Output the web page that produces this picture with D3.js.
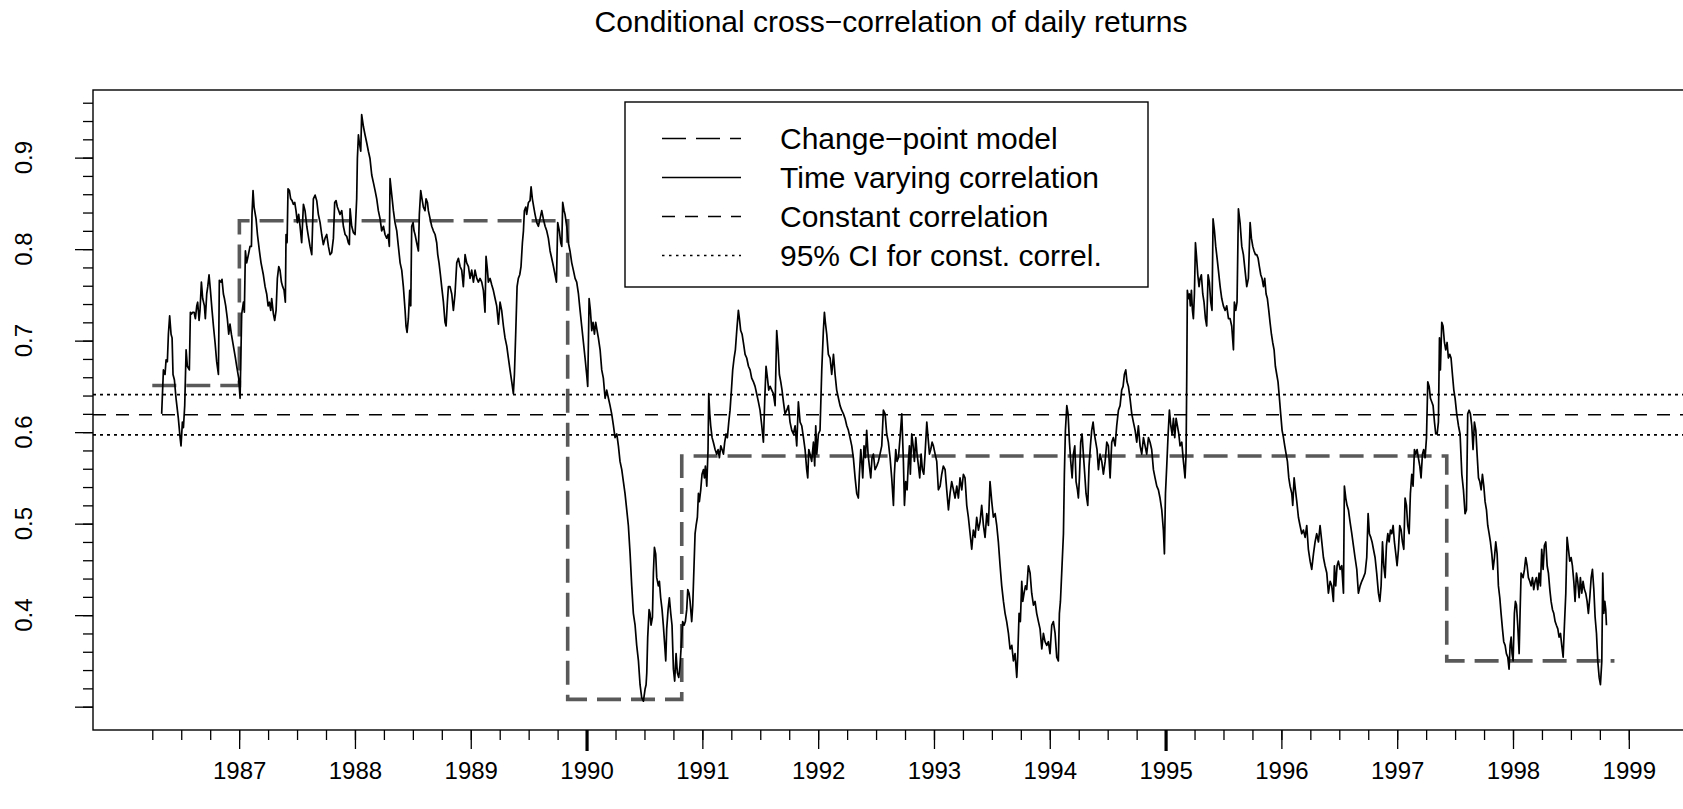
<!DOCTYPE html>
<html lang="en">
<head>
<meta charset="utf-8">
<title>Conditional cross-correlation of daily returns</title>
<script src="https://cdn.jsdelivr.net/npm/d3@7"></script>
<style>
  body { margin: 0; background: #fff; }
  svg { display: block; font-family: "Liberation Sans", Arial, Helvetica, sans-serif; }
</style>
</head>
<body>
<div id="chart"></div>
<script>
// time varying correlation (decimal years / correlation)
var tvDates = [
  1986.331,1986.346,1986.360,1986.369,1986.380,1986.389,1986.400,1986.412,1986.421,1986.429,1986.441,1986.455,1986.475,1986.490,1986.498,1986.510,1986.519,1986.530,1986.542,1986.553,
  1986.570,1986.579,1986.588,1986.599,1986.611,1986.622,1986.634,1986.642,1986.654,1986.662,1986.674,1986.685,1986.700,1986.708,1986.720,1986.729,1986.740,1986.752,1986.766,1986.778,
  1986.792,1986.806,1986.821,1986.829,1986.844,1986.852,1986.864,1986.873,1986.884,1986.898,1986.910,1986.921,1986.933,1986.945,1986.956,1986.968,1986.979,1986.996,1987.008,1987.022,
  1987.037,1987.045,1987.054,1987.065,1987.080,1987.094,1987.106,1987.111,1987.120,1987.129,1987.146,1987.158,1987.175,1987.189,1987.209,1987.224,1987.238,1987.250,1987.261,1987.273,
  1987.281,1987.296,1987.307,1987.319,1987.330,1987.342,1987.353,1987.365,1987.376,1987.388,1987.399,1987.405,1987.414,1987.422,1987.434,1987.445,1987.457,1987.468,1987.480,1987.491,
  1987.503,1987.514,1987.526,1987.540,1987.555,1987.569,1987.584,1987.595,1987.612,1987.627,1987.641,1987.656,1987.670,1987.684,1987.699,1987.713,1987.727,1987.742,1987.756,1987.771,
  1987.785,1987.799,1987.814,1987.825,1987.837,1987.848,1987.860,1987.871,1987.886,1987.900,1987.915,1987.929,1987.943,1987.952,1987.958,1987.972,1987.987,1988.001,1988.015,1988.021,
  1988.030,1988.038,1988.050,1988.058,1988.073,1988.087,1988.102,1988.116,1988.130,1988.145,1988.159,1988.174,1988.188,1988.202,1988.217,1988.231,1988.246,1988.260,1988.274,1988.286,
  1988.297,1988.303,1988.318,1988.332,1988.346,
  1988.361,1988.375,1988.390,1988.404,1988.418,1988.433,1988.441,1988.450,1988.461,1988.473,1988.482,1988.490,1988.502,1988.510,1988.519,1988.533,1988.548,1988.556,1988.568,1988.579,
  1988.591,1988.605,1988.614,1988.626,1988.634,1988.649,1988.663,1988.677,1988.692,1988.706,1988.715,1988.726,1988.738,1988.749,1988.764,1988.778,1988.787,1988.798,1988.807,1988.821,
  1988.836,1988.850,1988.864,1988.879,1988.893,1988.908,1988.922,1988.936,1988.951,1988.965,1988.980,1988.994,1989.008,1989.023,1989.037,1989.052,1989.066,1989.080,1989.095,1989.109,
  1989.123,1989.132,1989.144,1989.152,1989.167,1989.181,1989.195,1989.210,1989.224,1989.239,1989.253,1989.267,1989.282,1989.296,1989.311,1989.325,1989.339,1989.354,1989.368,1989.377,
  1989.388,1989.400,1989.411,1989.423,1989.434,1989.446,1989.455,1989.463,1989.475,1989.483,1989.498,1989.512,1989.521,1989.532,1989.544,1989.555,1989.570,1989.584,1989.598,1989.613,
  1989.627,1989.642,1989.656,1989.670,1989.685,1989.699,1989.714,1989.728,1989.740,1989.751,1989.765,1989.777,1989.786,1989.794,1989.806,1989.814,1989.829,1989.843,1989.857,1989.872,
  1989.886,1989.901,1989.915,1989.930,1989.944,1989.958,1989.973,1989.987,1990.001,1990.010,1990.022,1990.033,1990.045,1990.056,1990.068,1990.079,1990.091,1990.102,1990.117,1990.131,
  1990.145,1990.160,1990.174,1990.189,1990.203,1990.217,1990.232,1990.246,1990.261,1990.275,1990.289,1990.304,1990.318,1990.332,1990.347,1990.361,1990.376,1990.390,1990.404,1990.419,
  1990.433,1990.448,1990.462,1990.476,1990.491,
  1990.505,1990.514,1990.520,1990.528,1990.540,1990.548,1990.557,1990.569,1990.577,1990.586,1990.597,1990.606,1990.620,1990.629,1990.640,1990.652,1990.663,1990.675,1990.684,1990.692,
  1990.704,1990.715,1990.727,1990.738,1990.750,1990.761,1990.773,1990.784,1990.796,1990.807,1990.822,1990.830,1990.842,1990.853,1990.865,1990.874,1990.885,1990.894,1990.908,1990.917,
  1990.928,1990.937,1990.946,1990.957,1990.966,1990.974,1990.986,1990.997,1991.009,1991.018,1991.026,1991.038,1991.049,1991.055,1991.064,1991.072,1991.084,1991.095,1991.110,1991.124,
  1991.136,1991.147,1991.159,1991.170,1991.182,1991.193,1991.205,1991.216,1991.228,1991.239,1991.251,1991.262,1991.274,1991.285,1991.297,1991.311,1991.320,1991.331,1991.343,1991.354,
  1991.369,1991.383,1991.398,1991.412,1991.426,1991.441,1991.455,1991.469,1991.484,1991.498,1991.513,1991.527,1991.539,1991.550,1991.562,1991.573,1991.585,1991.599,1991.613,1991.628,
  1991.642,1991.654,1991.665,1991.677,1991.688,1991.700,1991.714,1991.729,1991.743,1991.757,1991.772,1991.786,1991.801,1991.815,1991.829,1991.844,1991.858,1991.873,1991.887,1991.901,
  1991.910,1991.919,1991.930,1991.944,1991.959,1991.970,1991.979,1991.988,1992.002,1992.016,1992.031,1992.045,1992.054,1992.062,1992.074,1992.088,1992.103,1992.117,1992.132,1992.146,
  1992.160,1992.175,1992.189,1992.203,1992.218,1992.232,1992.247,1992.261,1992.275,1992.290,1992.304,1992.319,1992.333,1992.347,1992.356,1992.368,1992.376,1992.385,1992.396,1992.408,
  1992.419,1992.431,1992.442,1992.454,1992.465,1992.477,1992.491,1992.506,1992.520,1992.534,1992.549,1992.563,1992.578,1992.592,
  1992.606,1992.621,1992.635,1992.650,1992.658,1992.670,1992.681,1992.693,1992.707,1992.722,1992.736,1992.745,1992.756,1992.768,1992.779,1992.788,1992.796,1992.808,1992.820,1992.831,
  1992.843,1992.854,1992.866,1992.877,1992.889,1992.900,1992.912,1992.923,1992.938,1992.949,1992.961,1992.972,1992.984,1992.995,1993.010,1993.024,1993.038,1993.053,1993.067,1993.081,
  1993.096,1993.110,1993.125,1993.139,1993.153,1993.168,1993.182,1993.197,1993.211,1993.225,1993.240,1993.254,1993.268,1993.283,1993.297,1993.312,1993.326,1993.340,1993.355,1993.369,
  1993.384,1993.398,1993.412,1993.427,1993.441,1993.456,1993.470,1993.484,1993.499,1993.513,1993.528,1993.542,1993.556,1993.571,1993.585,1993.600,1993.614,1993.628,1993.643,1993.657,
  1993.672,1993.686,1993.700,1993.715,1993.723,1993.735,1993.746,1993.758,1993.767,1993.778,1993.790,1993.801,1993.815,1993.830,1993.844,1993.859,1993.873,1993.887,1993.902,1993.916,
  1993.931,1993.945,1993.959,1993.974,1993.988,1994.002,1994.017,1994.031,1994.046,1994.060,1994.074,1994.083,1994.092,1994.103,1994.118,1994.126,1994.135,1994.147,1994.158,1994.170,
  1994.181,1994.193,1994.204,1994.216,1994.227,1994.239,1994.247,1994.256,1994.267,1994.279,1994.290,1994.302,1994.313,1994.328,1994.339,1994.351,1994.362,1994.374,1994.385,1994.397,
  1994.408,1994.420,1994.434,1994.449,1994.463,1994.478,1994.492,1994.506,1994.521,1994.535,1994.549,1994.564,1994.578,1994.593,1994.607,1994.621,1994.633,1994.644,1994.656,1994.667,
  1994.679,1994.693,1994.708,1994.722,
  1994.737,1994.751,1994.765,1994.780,1994.794,1994.809,1994.823,1994.837,1994.852,1994.866,1994.880,1994.895,1994.909,1994.924,1994.938,1994.952,1994.967,1994.981,1994.990,1994.999,
  1995.010,1995.022,1995.033,1995.045,1995.056,1995.068,1995.079,1995.091,1995.102,1995.114,1995.125,1995.140,1995.154,1995.168,1995.177,1995.183,1995.188,1995.197,1995.206,1995.214,
  1995.223,1995.232,1995.240,1995.249,1995.258,1995.266,1995.278,1995.289,1995.298,1995.309,1995.321,1995.332,1995.344,1995.355,1995.367,1995.378,1995.390,1995.401,1995.410,1995.422,
  1995.433,1995.445,1995.456,1995.471,1995.485,1995.499,1995.514,1995.528,1995.543,1995.557,1995.571,1995.586,1995.594,1995.606,1995.617,1995.629,1995.643,1995.658,1995.672,1995.686,
  1995.701,1995.715,1995.730,1995.741,1995.753,1995.764,1995.776,1995.787,1995.799,1995.810,1995.822,1995.833,1995.845,1995.856,1995.868,1995.879,1995.891,1995.902,1995.914,1995.925,
  1995.937,1995.948,1995.960,1995.971,1995.983,1995.994,1996.006,1996.018,1996.029,1996.041,1996.052,1996.064,1996.075,1996.090,1996.098,1996.110,1996.121,1996.133,1996.147,1996.161,
  1996.176,1996.190,1996.205,1996.219,1996.233,1996.248,1996.262,1996.277,1996.291,1996.305,1996.320,1996.334,1996.349,1996.363,1996.377,1996.392,1996.406,1996.421,1996.435,1996.449,
  1996.458,1996.469,1996.481,1996.492,1996.507,1996.521,1996.536,1996.544,1996.556,1996.567,1996.579,1996.593,1996.608,1996.622,1996.636,1996.651,1996.665,1996.680,1996.694,1996.708,
  1996.723,1996.737,1996.749,1996.760,1996.772,1996.783,1996.795,1996.809,1996.823,1996.838,
  1996.850,1996.861,1996.873,1996.884,1996.896,1996.907,1996.919,1996.930,1996.942,1996.953,1996.965,1996.976,1996.988,1996.999,1997.011,1997.022,1997.034,1997.045,1997.057,1997.068,
  1997.080,1997.091,1997.103,1997.114,1997.126,1997.137,1997.149,1997.160,1997.172,1997.183,1997.195,1997.206,1997.218,1997.229,1997.241,1997.253,1997.264,1997.276,1997.287,1997.299,
  1997.310,1997.322,1997.333,1997.345,1997.356,1997.365,1997.373,1997.385,1997.396,1997.408,1997.419,1997.431,1997.442,1997.454,1997.465,1997.477,1997.489,1997.500,1997.514,1997.529,
  1997.543,1997.558,1997.572,1997.586,1997.598,1997.609,1997.621,1997.632,1997.644,1997.655,1997.667,1997.679,1997.690,1997.702,1997.713,1997.725,1997.736,1997.748,1997.759,1997.771,
  1997.782,1997.794,1997.805,1997.817,1997.828,1997.840,1997.851,1997.863,1997.874,1997.886,1997.897,1997.909,1997.920,1997.932,1997.943,1997.955,1997.966,1997.975,1997.984,1997.992,
  1998.001,1998.012,1998.021,1998.030,1998.041,1998.053,1998.061,1998.070,1998.087,1998.099,1998.110,1998.122,1998.133,1998.145,1998.156,1998.168,1998.179,1998.191,1998.202,1998.214,
  1998.225,1998.237,1998.248,1998.260,1998.271,1998.283,1998.295,1998.306,1998.318,1998.329,1998.341,1998.352,1998.364,1998.375,1998.387,1998.398,1998.410,1998.421,1998.433,1998.444,
  1998.456,1998.467,1998.479,1998.490,1998.502,1998.513,1998.525,1998.536,1998.548,1998.559,1998.571,1998.582,1998.594,1998.605,1998.617,1998.628,1998.640,1998.651,1998.663,1998.675,
  1998.686,1998.698,1998.709,1998.721,1998.732,1998.744,1998.755,1998.767,1998.775,1998.784,1998.793,1998.801,1998.807
];
var tvCorr = [
  .620,.668,.663,.679,.677,.707,.727,.707,.703,.663,.657,.637,.615,.594,.585,.611,.605,.629,.690,.672,
  .668,.731,.729,.731,.731,.724,.738,.742,.722,.733,.764,.746,.738,.724,.751,.759,.772,.755,.733,.716,
  .698,.677,.663,.766,.764,.767,.751,.746,.738,.724,.707,.718,.707,.698,.690,.681,.672,.659,.637,.729,
  .742,.731,.798,.785,.794,.803,.803,.838,.864,.846,.833,.816,.798,.785,.772,.759,.751,.738,.742,.733,
  .746,.729,.722,.733,.768,.781,.777,.764,.759,.755,.742,.816,.807,.866,.864,.855,.853,.849,.851,.842,
  .829,.838,.825,.807,.849,.842,.825,.816,.803,.794,.855,.859,.853,.838,.829,.816,.805,.812,.816,.803,
  .794,.796,.812,.851,.853,.846,.842,.838,.842,.825,.816,.814,.807,.805,.844,.825,.818,.816,.855,.899,
  .925,.916,.907,.947,.934,.925,.916,.907,.899,.881,.873,.864,.855,.842,.833,.820,.825,.816,.812,.816,
  .803,.877,.859,.842,.829,
  .820,.803,.785,.777,.759,.733,.716,.709,.724,.755,.738,.825,.829,.820,.816,.807,.798,.838,.864,.855,
  .846,.842,.855,.851,.842,.833,.825,.820,.816,.807,.794,.785,.772,.759,.742,.720,.716,.742,.759,.759,
  .751,.733,.751,.785,.790,.781,.777,.759,.794,.785,.781,.768,.777,.764,.777,.768,.764,.768,.764,.755,
  .731,.792,.777,.764,.768,.761,.755,.746,.738,.718,.742,.733,.716,.703,.694,.681,.668,.655,.642,.663,
  .707,.759,.768,.772,.781,.807,.820,.842,.846,.838,.851,.853,.868,.855,.846,.838,.829,.825,.833,.842,
  .833,.825,.820,.812,.798,.790,.781,.772,.764,.829,.820,.807,.803,.851,.842,.838,.825,.807,.798,.785,
  .777,.768,.764,.751,.733,.716,.698,.681,.663,.650,.746,.733,.711,.720,.707,.720,.711,.703,.690,.668,
  .659,.637,.646,.637,.629,.620,.607,.594,.598,.585,.568,.559,.546,.533,.515,.498,.467,.432,.402,.389,
  .367,.350,.324,.310,.306,
  .319,.324,.337,.376,.406,.402,.389,.398,.446,.474,.467,.441,.432,.437,.419,.406,.389,.367,.350,.385,
  .406,.419,.402,.389,.341,.328,.358,.337,.332,.345,.376,.393,.389,.393,.406,.428,.424,.415,.393,.411,
  .454,.489,.498,.507,.533,.524,.537,.554,.559,.550,.563,.541,.581,.642,.620,.607,.594,.589,.581,.576,
  .581,.572,.585,.581,.576,.589,.598,.594,.611,.624,.646,.668,.681,.690,.711,.733,.724,.711,.707,.698,
  .685,.681,.672,.668,.659,.655,.650,.642,.633,.624,.607,.589,.637,.672,.659,.646,.650,.646,.642,.629,
  .711,.690,.663,.655,.646,.633,.620,.624,.629,.611,.602,.598,.607,.585,.633,.611,.607,.594,.581,.559,
  .550,.581,.576,.568,.589,.563,.607,.576,.598,.602,.668,.711,.731,.720,.707,.685,.681,.663,.685,.663,
  .646,.637,.629,.624,.620,.615,.607,.602,.594,.585,.572,.550,.533,.528,.554,.581,.568,.550,.585,.572,
  .602,.576,.563,.550,.572,.576,.559,.563,.568,.576,.585,.624,.620,.598,
  .589,.572,.550,.520,.554,.581,.568,.572,.594,.620,.568,.520,.546,.537,.568,.585,.554,.598,.585,.568,
  .594,.576,.563,.550,.576,.559,.554,.576,.611,.594,.576,.581,.589,.585,.576,.568,.537,.541,.554,.563,
  .559,.537,.515,.533,.546,.537,.528,.541,.528,.550,.537,.554,.550,.520,.507,.489,.472,.493,.485,.507,
  .493,.502,.520,.498,.485,.511,.498,.546,.524,.507,.511,.498,.480,.454,.432,.415,.402,.393,.380,.363,
  .367,.350,.358,.332,.354,.402,.393,.437,.415,.424,.432,.428,.454,.446,.424,.411,.415,.402,.393,.385,
  .363,.380,.371,.367,.371,.358,.389,.393,.380,.354,.350,.402,.415,.446,.489,.554,.602,.629,.620,.589,
  .568,.550,.576,.585,.546,.537,.528,.550,.589,.598,.576,.554,.533,.520,.563,.585,.602,.611,.598,.589,
  .581,.559,.576,.568,.554,.568,.589,.585,.550,.589,.594,.585,.607,.624,.629,.646,.650,.663,.668,.655,
  .650,.637,.620,.611,
  .602,.589,.607,.585,.576,.594,.585,.576,.594,.589,.581,.559,.550,.541,.537,.528,.515,.493,.467,.533,
  .563,.598,.624,.607,.598,.615,.594,.615,.607,.598,.585,.589,.568,.550,.576,.663,.755,.746,.751,.738,
  .755,.733,.724,.751,.807,.794,.772,.759,.768,.772,.751,.742,.724,.716,.772,.764,.742,.733,.833,.820,
  .803,.790,.777,.759,.746,.738,.733,.738,.724,.724,.716,.690,.742,.733,.742,.844,.829,.803,.794,.777,
  .759,.768,.829,.812,.803,.798,.794,.794,.790,.781,.772,.768,.759,.768,.751,.746,.733,.720,.707,.698,
  .690,.672,.663,.655,.637,.620,.602,.594,.585,.576,.568,.550,.541,.533,.520,.550,.537,.524,.507,.498,
  .489,.493,.485,.498,.472,.459,.450,.467,.480,.489,.480,.498,.480,.463,.454,.446,.424,.437,.432,.415,
  .454,.432,.454,.459,.450,.454,.424,.541,.528,.520,.515,.502,.489,.476,.463,.450,.424,.432,.437,.441,
  .446,.463,.511,.489,.485,.480,.472,.463,.446,.424,
  .415,.432,.480,.454,.441,.476,.489,.480,.493,.489,.498,.480,.467,.454,.472,.498,.493,.480,.472,.528,
  .520,.498,.489,.533,.554,.541,.581,.576,.581,.572,.563,.550,.576,.581,.572,.594,.655,.650,.637,.633,
  .629,.611,.598,.598,.611,.703,.668,.720,.716,.698,.690,.698,.681,.685,.681,.663,.646,.637,.620,.607,
  .598,.554,.537,.511,.515,.620,.624,.620,.607,.581,.611,.602,.576,.550,.546,.537,.554,.541,.524,.515,
  .498,.489,.480,.467,.450,.463,.480,.467,.432,.419,.402,.385,.371,.367,.358,.354,.341,.367,.376,.358,
  .350,.402,.415,.411,.389,.358,.402,.446,.441,.450,.463,.454,.441,.437,.432,.441,.428,.437,.441,.428,
  .446,.432,.472,.450,.476,.480,.454,.446,.428,.415,.406,.402,.393,.389,.385,.376,.380,.367,.354,.389,
  .424,.485,.472,.459,.463,.454,.437,.415,.446,.437,.419,.441,.424,.437,.428,.424,.415,.402,.419,.441,
  .450,.428,.398,.380,.350,.332,.324,.350,.446,.402,.415,.406,.389
];

// change-point model: break dates and levels
var cpDates  = [1986.25, 1987.002, 1989.837, 1990.822, 1997.428, 1998.876];
var cpLevels = [0.651,   0.831,    0.308,    0.574,    0.350,    0.350];

// constant correlation and its 95% CI
var constCorr = 0.619;
var ciBounds = [0.597, 0.641];

var yearLabels = [1987, 1988, 1989, 1990, 1991, 1992, 1993, 1994, 1995, 1996, 1997, 1998, 1999];
var boldYears = [1990, 1995];
var yLabels = [0.4, 0.5, 0.6, 0.7, 0.8, 0.9];
var legendLabels = ["Change\u2212point model", "Time varying correlation", "Constant correlation", "95% CI for const. correl."];

var W = 1683, H = 809;
var box = {left: 93, right: 1694, top: 90, bottom: 730};

var svg = d3.select("#chart").append("svg")
    .attr("width", W)
    .attr("height", H);

var x = d3.scaleLinear().domain([1985.738, 1999.563]).range([box.left, box.right]);
var y = d3.scaleLinear().domain([0.2745, 0.9739]).range([box.bottom, box.top]);

// title
svg.append("text")
    .attr("x", 891).attr("y", 32)
    .attr("text-anchor", "middle")
    .attr("font-size", 30)
    .text("Conditional cross\u2212correlation of daily returns");

// ---- x axis ----
var minorX = d3.range(1986.25, 1999.001, 0.25);
var xMinor = svg.append("g")
    .attr("transform", "translate(0," + box.bottom + ")")
    .call(d3.axisBottom(x).tickValues(minorX).tickSize(10).tickFormat(""));
var xMajor = svg.append("g")
    .attr("transform", "translate(0," + box.bottom + ")")
    .call(d3.axisBottom(x).tickValues(yearLabels).tickSize(19).tickPadding(13).tickFormat(d3.format("d")));
xMajor.selectAll("text").attr("font-size", 24).attr("fill", "#000");
var xBold = svg.append("g")
    .attr("transform", "translate(0," + box.bottom + ")")
    .call(d3.axisBottom(x).tickValues(boldYears).tickSize(21).tickFormat(""));
xBold.selectAll("line").attr("stroke-width", 3.2);

// ---- y axis ----
var minorY = d3.range(0.30, 0.961, 0.02);
var yMinor = svg.append("g")
    .attr("transform", "translate(" + box.left + ",0)")
    .call(d3.axisLeft(y).tickValues(minorY).tickSize(10).tickFormat(""));
var yMajor = svg.append("g")
    .attr("transform", "translate(" + box.left + ",0)")
    .call(d3.axisLeft(y).tickValues([0.3].concat(yLabels)).tickSize(18).tickFormat(""));

[xMinor, xMajor, xBold, yMinor, yMajor].forEach(function(g) {
  g.select(".domain").remove();
  g.selectAll("line").attr("stroke", "#000");
  if (g !== xBold) g.selectAll("line").attr("stroke-width", 1.3);
});

svg.append("g").selectAll("text")
    .data(yLabels)
    .enter().append("text")
    .attr("transform", function(d) { return "translate(32," + y(d) + ") rotate(-90)"; })
    .attr("text-anchor", "middle")
    .attr("font-size", 24)
    .text(function(d) { return d.toFixed(1); });

// ---- plot area ----
var plot = svg.append("g");

// constant correlation + CI
plot.append("line")
    .attr("x1", box.left).attr("x2", box.right)
    .attr("y1", y(constCorr)).attr("y2", y(constCorr))
    .attr("stroke", "#000").attr("stroke-width", 1.6)
    .attr("stroke-dasharray", "13,10");
plot.selectAll(".ci")
    .data(ciBounds)
    .enter().append("line")
    .attr("class", "ci")
    .attr("x1", box.left).attr("x2", box.right)
    .attr("y1", function(d) { return y(d); }).attr("y2", function(d) { return y(d); })
    .attr("stroke", "#000").attr("stroke-width", 1.8)
    .attr("stroke-dasharray", "3,4");

// change-point model (step function)
var cpLine = d3.line()
    .x(function(d, i) { return x(cpDates[i]); })
    .y(function(d) { return y(d); })
    .curve(d3.curveStepAfter);
plot.append("path")
    .attr("d", cpLine(cpLevels))
    .attr("fill", "none")
    .attr("stroke", "#595959")
    .attr("stroke-width", 3.6)
    .attr("stroke-dasharray", "24,10");

// time varying correlation
var tv = tvDates.map(function(d, i) { return [d, tvCorr[i]]; });
var tvLine = d3.line()
    .x(function(d) { return x(d[0]); })
    .y(function(d) { return y(d[1]); });
plot.append("path")
    .attr("d", tvLine(tv))
    .attr("fill", "none")
    .attr("stroke", "#000")
    .attr("stroke-width", 1.7)
    .attr("stroke-linejoin", "round");

// box
svg.append("rect")
    .attr("x", box.left).attr("y", box.top)
    .attr("width", box.right - box.left).attr("height", box.bottom - box.top)
    .attr("fill", "none").attr("stroke", "#000").attr("stroke-width", 1.4);

// ---- legend ----
var legend = svg.append("g");
legend.append("rect")
    .attr("x", 625).attr("y", 102)
    .attr("width", 523).attr("height", 185)
    .attr("fill", "#fff").attr("stroke", "#000").attr("stroke-width", 1.4);

var dashes = ["24,10", null, "13,10", "2.5,4.5"];
var widths = [1.4, 1.4, 1.4, 1.5];
legendLabels.forEach(function(label, i) {
  var cy = 138.5 + i * 39;
  legend.append("line")
      .attr("x1", 662).attr("x2", 741)
      .attr("y1", cy).attr("y2", cy)
      .attr("stroke", "#000").attr("stroke-width", widths[i])
      .attr("stroke-dasharray", dashes[i]);
  legend.append("text")
      .attr("x", 780).attr("y", cy + 10.5)
      .attr("font-size", 30)
      .text(label);
});
</script>
</body>
</html>
